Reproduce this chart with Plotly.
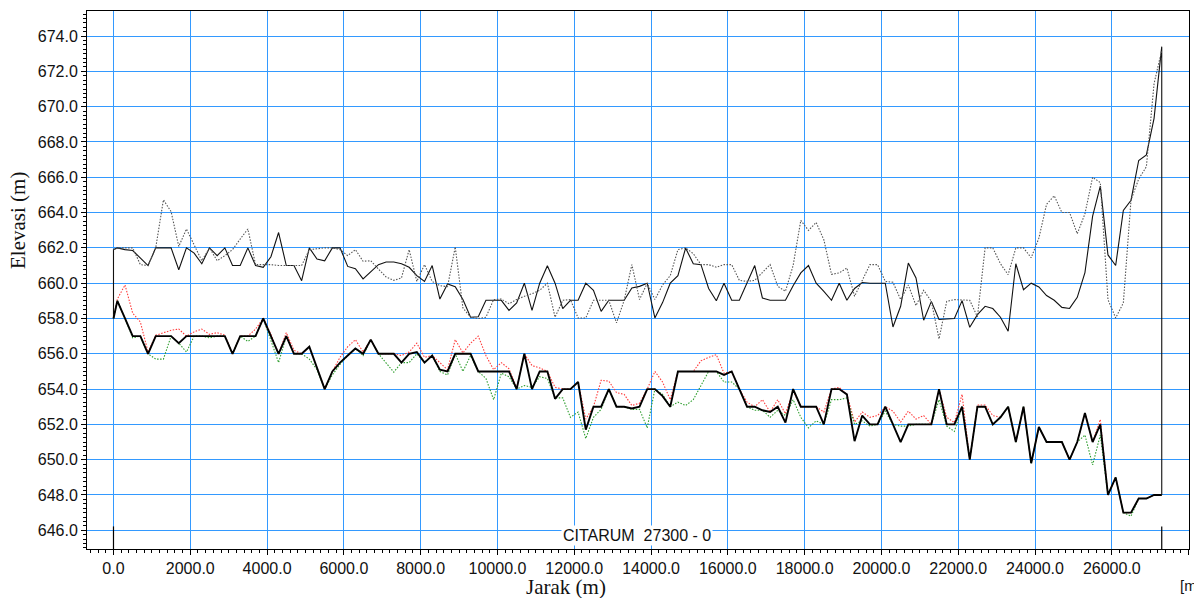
import plotly.graph_objects as go

# Chainage of each cross-section along the reach (m)
STATIONS = [0] + list(range(100, 27301, 200))

# Channel bed elevation (m)
BED = [
    658, 659, 658, 657, 657, 656, 657, 657, 657, 656.6, 657,
    657, 657, 657, 657, 657, 656, 657, 657, 657, 658,
    657, 656, 657, 656, 656, 656.4, 655.2, 654, 655, 655.5,
    655.9, 656.3, 656, 656.8, 656, 656, 656, 655.5, 656, 656.1,
    655.5, 655.9, 655.1, 655, 656, 656, 656, 655, 655, 655,
    655, 655, 654, 656, 654, 655, 655, 653.45, 654, 654,
    654.4, 651.7, 653, 653, 654, 653, 653, 652.9, 653, 654,
    654, 653.6, 653, 655, 655, 655, 655, 655, 655, 654.8,
    655, 654, 653, 653, 652.8, 652.7, 653, 652.1, 654, 653,
    653, 653, 652, 654, 654, 653.7, 651.05, 652.5, 652, 652,
    653, 652, 651, 652, 652, 652, 652, 654, 652, 652,
    653, 650, 653, 653, 652, 652.4, 653, 651, 653, 649.8,
    651.85, 651, 651, 651, 650, 651, 652.65, 651, 652, 648,
    649, 647, 647, 647.8, 647.8, 648, 648,
]

# Upper comparison profile (red dotted)
PROFILE_RED = [
    658, 659.1, 659.9, 658.3, 657.8, 656.1, 657.05, 657.2, 657.33, 657.4, 657.0,
    657.24, 657.4, 657.1, 657.2, 657.05, 656, 657, 657, 657.4, 658,
    657.1, 656, 657.2, 656.2, 656, 656.4, 655.2, 654, 655, 655.8,
    656.4, 656.8, 656.1, 656.8, 656, 656, 656, 655.9, 656.1, 656.6,
    655.8, 655.9, 655.5, 655.1, 656.8, 656.05, 656.6, 657.0, 655.9, 655.1,
    655.5, 655.15, 654.07, 656, 655.33, 655.2, 655, 654.1, 654, 654,
    654.4, 652.3, 653, 654.5, 654.45, 653.8, 653.7, 653.07, 653.2, 654,
    655, 654.4, 653.4, 655, 655, 655, 655.6, 655.8, 655.95, 654.9,
    655, 654, 653.26, 653, 653.4, 652.7, 653.4, 652.6, 653.9, 653,
    653, 653, 652.7, 654, 654.1, 653.7, 652.13, 652.7, 652.4, 652.5,
    653, 652.75, 652.13, 652.75, 652.3, 652.5, 652, 654, 652.4, 652.1,
    653.7, 650, 653.1, 653.1, 652.5, 652.4, 653, 651, 653, 649.8,
    651.85, 651, 651, 651, 650, 651, 652.65, 651, 652.28, 648,
    649, 647, 647, 647.8, 647.8, 648, 648,
]

# Lower comparison profile (green dotted)
PROFILE_GREEN = [
    658, 659, 658, 656.9, 657, 656, 655.7, 655.7, 657, 656.6, 656.1,
    657, 657, 656.9, 657, 657, 656, 657, 656.7, 657, 658,
    656.75, 655.5, 657, 656, 656, 655.7, 655.1, 654, 654.8, 655.4,
    655.9, 656.3, 655.9, 656.8, 656, 655.5, 654.96, 655.5, 655.5, 656.0,
    655.5, 655.9, 655, 654.8, 656, 655, 655.9, 655, 654.6, 653.4,
    654.9, 654.7, 654, 654.2, 654.1, 654.7, 654.6, 653.5, 653.5, 652.4,
    652.7, 651.2, 652.4, 652.85, 654, 653, 653, 652.85, 652.85, 651.8,
    654, 653.7, 653, 653.26, 653.07, 653.4, 654.17, 655, 655, 654.4,
    654.4, 654, 653, 652.8, 652.8, 652.4, 652.8, 652.5, 653.4, 652.4,
    651.8, 652.2, 652, 653.4, 653.4, 653.5, 652.0, 652.2, 651.9, 652,
    652.75, 652, 651.9, 651.9, 652, 652, 652, 653.4, 651.9, 651.6,
    653, 650, 653, 653, 652, 652.4, 653, 651, 653, 649.8,
    651.85, 651, 651, 651, 650, 651, 651.4, 649.7, 651.4, 648,
    649, 647, 646.8, 647.8, 647.8, 648, 648,
]

# Left bank elevation (solid thin black)
LEFT_BANK = [
    661.9, 662.0, 661.9, 661.85, 661.4, 661.0, 662, 662, 662, 660.76, 662,
    661.7, 661.1, 662, 661.56, 662, 661, 661, 662, 661, 660.9,
    661.5, 662.87, 661, 661, 660.14, 662, 661.37, 661.27, 662, 662,
    660.95, 660.82, 660.24, 660.67, 661.05, 661.2, 661.2, 661.1, 660.9, 660.43,
    660.1, 661, 659.1, 659.96, 659.8, 659.07, 658.07, 658.1, 659.03, 659.03,
    659.03, 658.46, 658.88, 660, 658.46, 660, 660.99, 660, 658.56, 659.03,
    659.03, 660, 659.6, 658.4, 659.03, 659.03, 659.03, 659.73, 659.82, 660,
    658.03, 658.9, 660, 660.43, 661.99, 661.1, 661.05, 659.7, 659.0, 660,
    659.03, 659.03, 660, 661, 659.16, 659.03, 659.03, 659.03, 659.86, 660.58,
    661, 660, 659.54, 659.03, 660, 659.03, 659.7, 660.04, 660, 660,
    660, 657.52, 658.69, 661.14, 660.3, 657.9, 658.97, 657.94, 657.97, 658,
    659.01, 657.5, 658.22, 658.69, 658.56, 658.07, 657.28, 661.1, 659.63, 660,
    659.79, 659.3, 659.03, 658.63, 658.57, 659.2, 660.6, 663.8, 665.5, 661.6,
    661.0, 664.12, 664.7, 666.95, 667.27, 669.34, 673.4,
]

# Right bank elevation (grey dotted)
RIGHT_BANK = [
    661.9, 662.0, 662.0, 662, 661.05, 661.0, 662, 664.72, 664.06, 662.08, 663.07,
    662.18, 661.27, 662, 661.27, 661.56, 661.9, 662.5, 663.07, 661.05, 661.05,
    661.05, 661.0, 661, 661, 661, 661.9, 661.95, 662, 662, 661.9,
    661.56, 661.9, 661.24, 661.27, 660.8, 660.35, 660.16, 660.3, 661.9, 660.1,
    661.05, 660.1, 659.86, 659.8, 662.05, 658.6, 658.07, 658.0, 658.07, 659.07,
    659.1, 658.84, 659.07, 659.26, 659.4, 659.6, 660, 658.07, 659.03, 659.07,
    658.03, 658.03, 659.03, 659.03, 659.03, 657.75, 659.03, 661.05, 659.07, 660,
    659.07, 659.9, 660.43, 661.9, 662, 661.67, 661.05, 661.05, 660.9, 661.05,
    661.05, 660.16, 660.1, 660.16, 660.6, 661.05, 659.82, 659.54, 661, 663.56,
    662.99, 663.44, 662.46, 660.5, 660.58, 660.86, 659.26, 660.2, 661.05, 661.05,
    660.1, 660.05, 659.07, 659.9, 658.73, 659.6, 658.97, 656.84, 658.97, 659.07,
    659.07, 659.03, 658.09, 662, 662, 661.1, 660.48, 662, 662, 661.44,
    662.55, 664.47, 664.95, 664, 664, 662.8, 663.93, 666.0, 665.7, 659.07,
    658.03, 658.88, 664.72, 665.9, 666.6, 671.3, 673.2,
]

REACH_LABEL = "CITARUM  27300 - 0"
X_TITLE = "Jarak (m)"
Y_TITLE = "Elevasi (m)"

X_RANGE = [-690, 28010]
Y_RANGE = [644.94, 675.42]
GRID_BLUE = "#3399FF"
FINE_DOT = "1.5px,1.5px"
TICK_FONT = dict(family="Liberation Sans, Arial, sans-serif", size=16, color="#111111")
TITLE_FONT = dict(family="Liberation Serif, DejaVu Serif, serif", size=21, color="#111111")

fig = go.Figure()

# Bank lines, closed to the bed at both ends of the reach
fig.add_trace(go.Scatter(
    x=[STATIONS[0]] + STATIONS + [STATIONS[-1]],
    y=[BED[0]] + LEFT_BANK + [BED[-1]],
    mode="lines", line=dict(color="#111111", width=1.1),
    name="LOB", showlegend=False,
))
fig.add_trace(go.Scatter(
    x=STATIONS, y=RIGHT_BANK,
    mode="lines", line=dict(color="#555555", width=1.1, dash=FINE_DOT),
    name="ROB", showlegend=False,
))
fig.add_trace(go.Scatter(
    x=STATIONS, y=PROFILE_RED,
    mode="lines", line=dict(color="#FF3B3B", width=1.1, dash=FINE_DOT),
    name="Red", showlegend=False,
))
fig.add_trace(go.Scatter(
    x=STATIONS, y=PROFILE_GREEN,
    mode="lines", line=dict(color="#2E9E2E", width=1.1, dash=FINE_DOT),
    name="Green", showlegend=False,
))
fig.add_trace(go.Scatter(
    x=STATIONS, y=BED,
    mode="lines", line=dict(color="#000000", width=1.9),
    name="Ground", showlegend=False,
))

# Reach end markers at the bottom of the plot
for sx in (STATIONS[0], STATIONS[-1]):
    fig.add_shape(type="line", xref="x", yref="y",
                  x0=sx, x1=sx, y0=646.22, y1=Y_RANGE[0],
                  line=dict(color="#000000", width=1.2))

fig.add_annotation(
    x=13630, y=645.72, xref="x", yref="y",
    text=REACH_LABEL, showarrow=False,
    font=dict(family="Liberation Sans, Arial, sans-serif", size=16, color="#111111"),
    bgcolor="white", borderpad=1,
)
fig.add_annotation(
    x=566, y=587, xref="paper", yref="paper", xanchor="center",
    text=X_TITLE, showarrow=False, font=TITLE_FONT,
)
fig.add_annotation(
    x=18, y=221, xref="paper", yref="paper", xanchor="center",
    text=Y_TITLE, showarrow=False, font=TITLE_FONT, textangle=-90,
)
fig.add_annotation(
    x=1178, y=585, xref="paper", yref="paper", xanchor="left",
    text="[m]", showarrow=False,
    font=dict(family="Liberation Sans, Arial, sans-serif", size=15, color="#111111"),
)

# annotation positions given in pixels; convert to paper coordinates
W, H = 1194, 598
ML, MR, MT, MB = 87, 5, 11, 49
PW, PH = W - ML - MR, H - MT - MB
for ann in fig.layout.annotations:
    if ann.xref == "paper":
        ann.x = (ann.x - ML) / PW
        ann.y = 1 - (ann.y - MT) / PH
        ann.yanchor = "middle"

fig.update_layout(
    width=W, height=H,
    margin=dict(l=ML, r=MR, t=MT, b=MB),
    paper_bgcolor="white", plot_bgcolor="white",
    showlegend=False,
)
fig.update_xaxes(
    range=X_RANGE, dtick=2000, tick0=0, tickformat=".1f",
    showgrid=True, gridcolor=GRID_BLUE, gridwidth=1, zeroline=False,
    showline=True, linecolor="black", linewidth=1, mirror=True,
    ticks="outside", ticklen=5, tickcolor="black", tickfont=TICK_FONT,
    minor=dict(dtick=200, ticks="outside", ticklen=3, tickcolor="black", showgrid=False),
)
fig.update_yaxes(
    range=Y_RANGE, dtick=2, tick0=646, tickformat=".1f",
    showgrid=True, gridcolor=GRID_BLUE, gridwidth=1, zeroline=False,
    showline=True, linecolor="black", linewidth=1, mirror=True,
    ticks="outside", ticklen=5, tickcolor="black", tickfont=TICK_FONT,
    minor=dict(dtick=0.25, ticks="outside", ticklen=3, tickcolor="black", showgrid=False),
)

fig.write_html("out.html")
